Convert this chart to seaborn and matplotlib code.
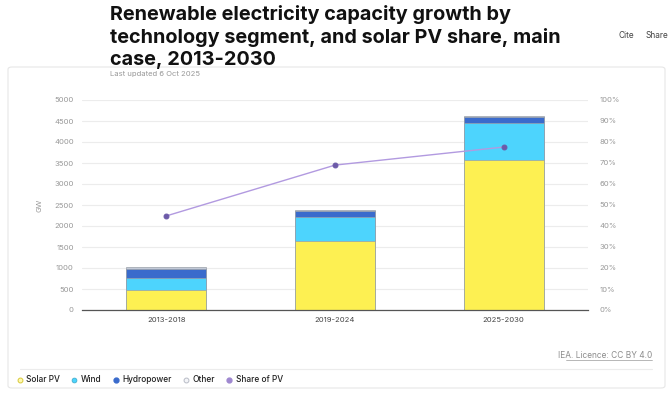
import matplotlib
matplotlib.use('Agg')
import matplotlib.pyplot as plt
import matplotlib.patches as mpatches
from matplotlib.lines import Line2D
import seaborn as sns
import pandas as pd
import numpy as np

# data (GW)
periods = ['2013-2018', '2019-2024', '2025-2030']
solar_pv = [465, 1650, 3580]
wind = [295, 575, 865]
hydropower = [210, 125, 145]
other = [60, 40, 30]
share_pv = [0.448, 0.69, 0.776]

c_solar = '#fdf052'
c_wind = '#4dd4fd'
c_hydro = '#3a6bcc'
c_other = '#c3cad8'
c_line = '#b29ae0'
c_dot = '#6c5aa8'
txt_gray = '#999999'

sns.set_theme(style='white')
plt.rcParams['font.family'] = ['Inter', 'DejaVu Sans']

fig = plt.figure(figsize=(6.7, 3.95), dpi=100)
fig.patch.set_facecolor('white')

# card frame
card = mpatches.FancyBboxPatch((8 / 670, 7 / 395), 657 / 670, 321 / 395,
                               boxstyle='round,pad=0,rounding_size=0.006',
                               transform=fig.transFigure, facecolor='none',
                               edgecolor='#e6e6e6', linewidth=0.8, zorder=-10)
fig.add_artist(card)
fig.add_artist(Line2D([20 / 670, 652 / 670], [26 / 395, 26 / 395],
                      transform=fig.transFigure, color='#ececec', lw=0.8))

ax = fig.add_axes([82 / 670, 85 / 395, 506 / 670, 210 / 395])
ax.patch.set_alpha(0)

df = pd.DataFrame({'period': periods, 'Solar PV': solar_pv, 'Wind': wind,
                   'Hydropower': hydropower, 'Other': other})
layers = [('Other', c_other), ('Hydropower', c_hydro), ('Wind', c_wind), ('Solar PV', c_solar)]
cols = ['Solar PV', 'Wind', 'Hydropower', 'Other']
# stacked bars: draw cumulative totals from top layer down
for name, col in layers:
    upto = cols[:cols.index(name) + 1]
    df['_cum'] = df[upto].sum(axis=1)
    sns.barplot(data=df, x='period', y='_cum', color=col, width=0.475,
                edgecolor='#9aa0a8', linewidth=0.5, saturation=1, ax=ax, zorder=2)

ax.set_ylim(0, 5000)
ax.set_xlim(-0.5, 2.5)
ax.set_yticks(np.arange(0, 5001, 500))
ax.yaxis.grid(True, color='#ececec', lw=0.8)
ax.set_axisbelow(True)
ax.set_xlabel('')
ax.set_ylabel('GW', fontsize=5.5, color=txt_gray, labelpad=8)
for s in ['top', 'right', 'left']:
    ax.spines[s].set_visible(False)
ax.spines['bottom'].set_color('#555555')
ax.spines['bottom'].set_linewidth(0.9)
ax.tick_params(axis='y', length=0, labelsize=5.5, labelcolor=txt_gray, pad=6)
ax.tick_params(axis='x', which='major', length=0, labelsize=5.5, labelcolor='#444444', pad=5)
ax.set_xticks([-0.5, 0.5, 1.5, 2.5], minor=True)
ax.tick_params(axis='x', which='minor', length=4, color='#555555', width=0.8)

ax2 = ax.twinx()
sns.pointplot(x=periods, y=share_pv, color=c_line, markers='o', linewidth=1,
              markersize=3.5, ax=ax2, zorder=5)
for ln in ax2.lines:
    ln.set_markerfacecolor(c_dot)
    ln.set_markeredgecolor(c_dot)
ax2.set_xlim(-0.5, 2.5)
ax2.set_ylim(0, 1)
ax2.set_yticks(np.arange(0, 1.01, 0.1))
ax2.set_yticklabels([f'{int(round(v * 100))}%' for v in np.arange(0, 1.01, 0.1)])
ax2.tick_params(axis='y', length=0, labelsize=5.5, labelcolor=txt_gray, pad=8)
for s in ['top', 'right', 'left', 'bottom']:
    ax2.spines[s].set_visible(False)
ax2.grid(False)

# titles and page text
fig.text(110 / 670, 1 - 5 / 395,
         'Renewable electricity capacity growth by\ntechnology segment, and solar PV share, main\ncase, 2013-2030',
         ha='left', va='top', fontsize=14.3, fontweight='bold', color='#111111', linespacing=1.28)
fig.text(110 / 670, 1 - 74 / 395, 'Last updated 6 Oct 2025', ha='left', va='center',
         fontsize=5.5, color=txt_gray)
fig.text(626 / 670, 1 - 36 / 395, 'Cite', ha='center', va='center', fontsize=6, color='#444444')
fig.text(657 / 670, 1 - 36 / 395, 'Share', ha='center', va='center', fontsize=6, color='#444444')
fig.text(652 / 670, 1 - 355 / 395, 'IEA. Licence: CC BY 4.0', ha='right', va='center',
         fontsize=6, color='#8c8c8c')
fig.add_artist(Line2D([566 / 670, 652 / 670], [1 - 360 / 395, 1 - 360 / 395],
                      transform=fig.transFigure, color='#9a9a9a', lw=0.5))

handles = [
    Line2D([], [], marker='o', ls='', markersize=3.5, markerfacecolor='#fff9b0', markeredgecolor='#d8c93a', markeredgewidth=0.7),
    Line2D([], [], marker='o', ls='', markersize=3.5, markerfacecolor=c_wind, markeredgecolor='#3aa8c8', markeredgewidth=0.5),
    Line2D([], [], marker='o', ls='', markersize=3.5, markerfacecolor=c_hydro, markeredgecolor=c_hydro),
    Line2D([], [], marker='o', ls='', markersize=3.5, markerfacecolor='#f4f5f8', markeredgecolor='#b8bcc6', markeredgewidth=0.7),
    Line2D([], [], marker='o', ls='', markersize=3.5, markerfacecolor='#9f88d0', markeredgecolor='#9f88d0'),
]
leg = fig.legend(handles, ['Solar PV', 'Wind', 'Hydropower', 'Other', 'Share of PV'],
                 loc='center left', bbox_to_anchor=(12 / 670, 1 - 380 / 395), ncol=5,
                 frameon=False, fontsize=6, handletextpad=0.3, columnspacing=1.2,
                 handlelength=1.0, borderaxespad=0)
for t in leg.get_texts():
    t.set_color('#222222')
    t.set_fontweight('medium')

fig.savefig('out.png', dpi=100)
